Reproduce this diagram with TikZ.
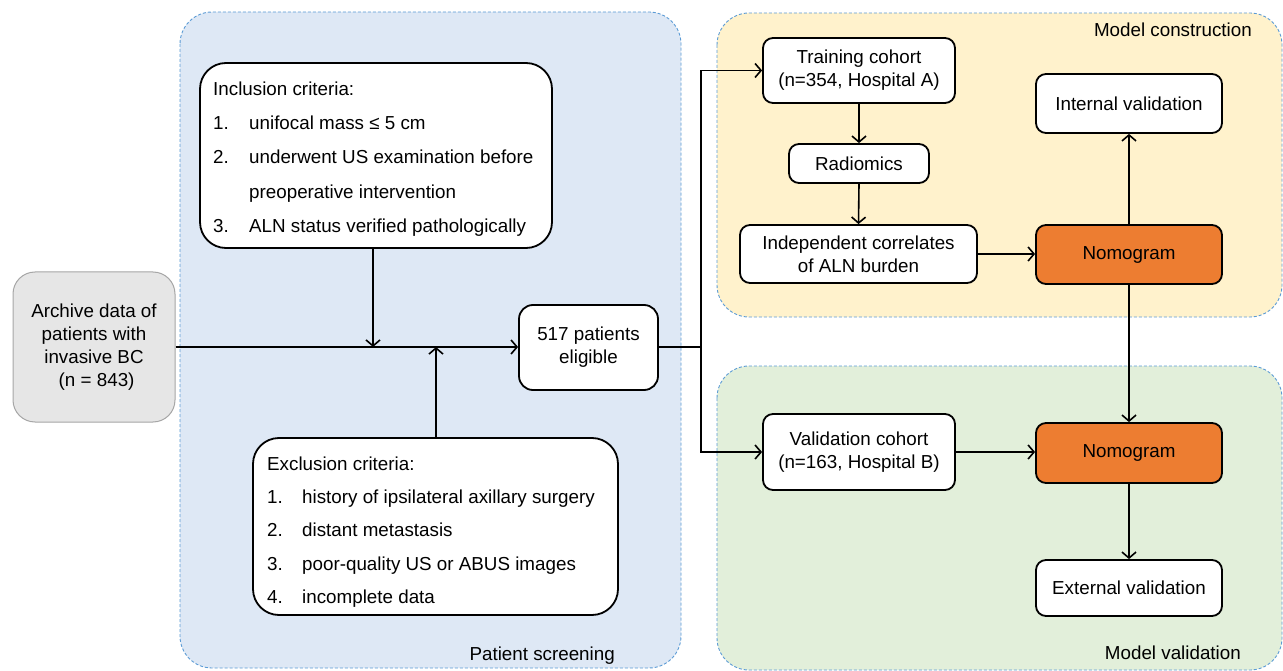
\documentclass[tikz,border=0pt]{standalone}
\usepackage{fontspec}
\setmainfont{Liberation Sans}
\usetikzlibrary{arrows.meta}
\definecolor{panelblue}{HTML}{DEE8F5}
\definecolor{panelyellow}{HTML}{FFF2CC}
\definecolor{panelgreen}{HTML}{E2EFDA}
\definecolor{dashblue}{HTML}{5B9BD5}
\definecolor{nomoorange}{HTML}{ED7D31}
\definecolor{archgray}{HTML}{E6E6E6}
\definecolor{archborder}{HTML}{A6A6A6}
\newcommand\mfs{\fontsize{18.8}{23}\selectfont}
\newcommand\lfs{\fontsize{18.8}{34.3}\selectfont}
\newcommand\efs{\fontsize{18.8}{33.4}\selectfont}
\tikzset{
  panel/.style={draw=dashblue, line width=0.9pt, dash pattern=on 3pt off 2pt, rounded corners=32pt},
  box/.style={draw, line width=1.8pt, rounded corners=10pt, fill=white, inner sep=0pt, align=center, font=\mfs},
  bigbox/.style={draw, line width=1.8pt, rounded corners=26pt, fill=white, inner sep=0pt},
  nomo/.style={box, fill=nomoorange},
  listtext/.style={anchor=west, align=left, inner sep=0pt, font=\lfs},
  lbl/.style={anchor=east, inner sep=0pt, font=\mfs},
  conn/.style={line width=1.6pt},
  arr/.style={conn, -{Straight Barb[length=6pt,width=14pt,line width=1.6pt]}},
}
\begin{document}
\begin{tikzpicture}[x=1pt,y=-1pt]
\useasboundingbox (0,0) rectangle (1283,671);
% panels
\draw[panel, fill=panelblue] (180,12) rectangle (681,668);
\draw[panel, fill=panelyellow] (717,13) rectangle (1282,317);
\draw[panel, fill=panelgreen] (717,366) rectangle (1282,670);
\node[lbl] (lps) at (615,656) {Patient screening};
\node[lbl] (lmc) at (1252,30) {Model construction};
\node[lbl] (lmv) at (1241,653) {Model validation};
% nodes
\node[box, fill=archgray, draw=archborder, line width=1pt, rounded corners=22pt,
      minimum width=162pt, minimum height=150pt] (arch) at (94,347)
      {Archive data of\\patients with\\invasive BC\\\ (n = 843)};
\node[bigbox, minimum width=352pt, minimum height=185pt] (incl) at (376,155.5) {};
\node[listtext] (incltxt) at (213,159)
  {Inclusion criteria:\\
   \makebox[36pt][l]{1.}unifocal mass ≤ 5 cm\\
   \makebox[36pt][l]{2.}underwent US examination before\\
   \hspace*{36pt}preoperative intervention\\
   \makebox[36pt][l]{3.}ALN status verified pathologically};
\node[bigbox, minimum width=365pt, minimum height=177pt] (excl) at (435.5,526.5) {};
\node[listtext, font=\efs] (excltxt) at (267,532)
  {Exclusion criteria:\\
   \makebox[35pt][l]{1.}history of ipsilateral axillary surgery\\
   \makebox[35pt][l]{2.}distant metastasis\\
   \makebox[35pt][l]{3.}poor-quality US or ABUS images\\
   \makebox[35pt][l]{4.}incomplete data};
\node[box, rounded corners=14pt, minimum width=139pt, minimum height=85pt] (elig) at (588.5,347.5) {517 patients\\eligible};
\node[box, minimum width=192pt, minimum height=65pt] (train) at (859,70.5) {Training cohort\\(n=354, Hospital A)};
\node[box, minimum width=140pt, minimum height=39pt] (rad) at (859,163.5) {Radiomics};
\node[box, minimum width=237pt, minimum height=58pt] (indep) at (858.5,254) {Independent correlates\\of ALN burden};
\node[box, minimum width=186pt, minimum height=59pt] (intv) at (1129,103.5) {Internal validation};
\node[nomo, minimum width=186pt, minimum height=59pt] (nomoA) at (1129,254.5) {Nomogram};
\node[box, minimum width=192pt, minimum height=76pt] (valid) at (859,452) {Validation cohort\\(n=163, Hospital B)};
\node[nomo, minimum width=186pt, minimum height=60pt] (nomoB) at (1129,453) {Nomogram};
\node[box, minimum width=186pt, minimum height=56pt] (extv) at (1129,588) {External validation};
% junctions
\coordinate (j1) at (373,347);
\coordinate (j2) at (436,347);
\coordinate (split) at (701,347);
% connectors
\draw[arr] (arch.east) -- (elig.west |- arch.east);
\draw[arr] (incl.south -| j1) -- (j1);
\draw[arr] (excl.north -| j2) -- (j2);
\draw[conn] (elig.east |- split) -- (split);
\draw[arr] (split) |- (train.west);
\draw[arr] (split) |- (valid.west);
\draw[arr] (train.south) -- (rad.north);
\draw[arr] (rad.south) -- (indep.north);
\draw[arr] (indep.east) -- (indep.east -| nomoA.west);
\draw[arr] (nomoA.north) -- (intv.south);
\draw[arr] (nomoA.south) -- (nomoB.north);
\draw[arr] (valid.east) -- (valid.east -| nomoB.west);
\draw[arr] (nomoB.south) -- (extv.north);
\end{tikzpicture}
\end{document}
